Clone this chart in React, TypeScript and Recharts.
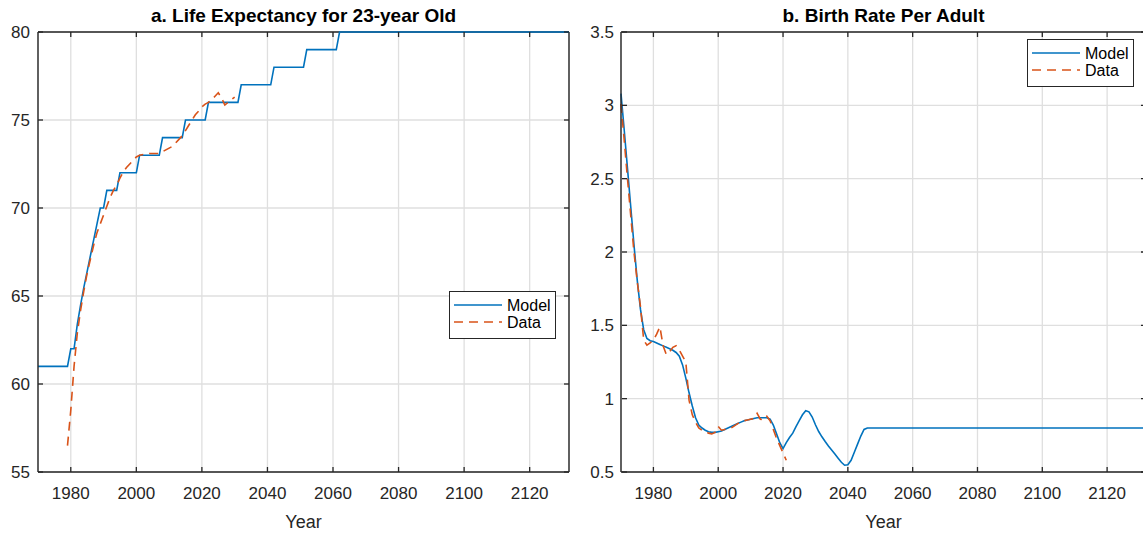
import { LineChart, Line, XAxis, YAxis, CartesianGrid, Legend, ReferenceLine } from "recharts";

const FONT = '"Liberation Sans", Arial, Helvetica, sans-serif';
const AXIS = "#262626";
const GRID = "#dfdfdf";
const BLUE = "#0072BD";
const ORANGE = "#D95319";
const DASH = "9 6";

// x axis (both panels)
const yearTicks = [1980, 2000, 2020, 2040, 2060, 2080, 2100, 2120];

// a. life expectancy
const lifeTicks = [55, 60, 65, 70, 75, 80];
const lifeModelYears = [1970, 1979, 1980, 1981, 1982, 1983, 1984, 1985, 1986, 1987, 1988, 1989, 1990, 1991, 1994, 1995, 2000, 2001, 2007, 2008, 2014, 2015, 2021, 2022, 2031, 2032, 2041, 2042, 2051, 2052, 2061, 2062, 2132];
const lifeModelValues = [61, 61, 62, 62, 63.4, 64.5, 65.5, 66.4, 67.3, 68.2, 69.1, 70, 70, 71, 71, 72, 72, 73, 73, 74, 74, 75, 75, 76, 76, 77, 77, 78, 78, 79, 79, 80, 80];
const lifeDataYears = [1979, 1980, 1981, 1982, 1983, 1984, 1985, 1986, 1987, 1988, 1989, 1990, 1991, 1992, 1993, 1994, 1995, 1996, 1997, 1998, 1999, 2000, 2001, 2004, 2007, 2009, 2011, 2013, 2014, 2015, 2016, 2017, 2018, 2019, 2020, 2021, 2022, 2023, 2024, 2025, 2026, 2027, 2028, 2029, 2030];
const lifeDataValues = [56.5, 58.5, 61.0, 62.9, 64.2, 65.3, 66.3, 67.1, 67.9, 68.6, 69.1, 69.6, 70.1, 70.6, 71.0, 71.3, 71.7, 72.05, 72.3, 72.5, 72.7, 72.9, 73.0, 73.1, 73.1, 73.3, 73.5, 73.9, 74.1, 74.4, 74.7, 75.0, 75.3, 75.5, 75.75, 75.9, 76.0, 76.15, 76.35, 76.55, 76.25, 75.85, 76.0, 76.15, 76.3];

// b. birth rate
const birthTicks = [0.5, 1, 1.5, 2, 2.5, 3, 3.5];
const birthModelYears = [1970, 1971, 1972, 1973, 1974, 1975, 1976, 1977, 1978, 1979, 1980, 1981, 1982, 1983, 1984, 1985, 1986, 1987, 1988, 1989, 1990, 1991, 1992, 1993, 1994, 1995, 1996, 1997, 1998, 1999, 2000, 2001, 2002, 2003, 2004, 2005, 2006, 2007, 2008, 2009, 2010, 2011, 2012, 2013, 2014, 2015, 2016, 2017, 2018, 2019, 2020, 2021, 2022, 2023, 2024, 2025, 2026, 2027, 2028, 2029, 2030, 2031, 2032, 2033, 2034, 2035, 2036, 2037, 2038, 2039, 2040, 2041, 2042, 2043, 2044, 2045, 2046, 2132];
const birthModelValues = [3.08, 2.83, 2.57, 2.31, 2.05, 1.81, 1.61, 1.47, 1.41, 1.395, 1.39, 1.38, 1.37, 1.36, 1.35, 1.34, 1.33, 1.315, 1.29, 1.23, 1.14, 1.04, 0.95, 0.87, 0.82, 0.8, 0.785, 0.775, 0.77, 0.77, 0.775, 0.78, 0.79, 0.8, 0.81, 0.82, 0.83, 0.84, 0.85, 0.855, 0.86, 0.865, 0.87, 0.87, 0.87, 0.87, 0.86, 0.82, 0.76, 0.7, 0.66, 0.7, 0.735, 0.765, 0.81, 0.85, 0.89, 0.918, 0.91, 0.875, 0.822, 0.776, 0.74, 0.708, 0.678, 0.65, 0.622, 0.594, 0.566, 0.546, 0.55, 0.58, 0.635, 0.69, 0.745, 0.79, 0.8, 0.8];
const birthDataYears = [1970, 1971, 1972, 1973, 1974, 1975, 1976, 1977, 1978, 1979, 1980, 1981, 1982, 1983, 1984, 1985, 1986, 1987, 1988, 1989, 1990, 1991, 1992, 1993, 1994, 1995, 1996, 1997, 1998, 1999, 2000, 2001, 2002, 2003, 2004, 2005, 2006, 2007, 2008, 2009, 2010, 2011, 2012, 2013, 2014, 2015, 2016, 2017, 2018, 2019, 2020, 2021];
const birthDataValues = [3.01, 2.76, 2.5, 2.25, 2.0, 1.8, 1.63, 1.4, 1.365, 1.38, 1.4, 1.44, 1.49, 1.36, 1.3, 1.32, 1.35, 1.36, 1.33, 1.29, 1.25, 0.99, 0.89, 0.84, 0.8, 0.785, 0.775, 0.765, 0.76, 0.77, 0.81, 0.785, 0.79, 0.795, 0.8, 0.815, 0.83, 0.84, 0.85, 0.855, 0.86, 0.865, 0.9, 0.86, 0.855, 0.88, 0.85, 0.79, 0.73, 0.68, 0.63, 0.58];

const pairs = (xs: number[], ys: number[]) => xs.map((year, i) => ({ year, value: ys[i] }));

const X_MARGIN = 15;
const Y_MARGIN = 8;
const PLOT_TOP = 32;

function makeXTick() {
  return (props: any) => {
    const { x, y, payload } = props;
    const axisY = y - X_MARGIN;
    return (
      <g>
        <line x1={x} x2={x} y1={axisY} y2={axisY - 5} stroke={AXIS} strokeWidth={1.3} />
        <line x1={x} x2={x} y1={PLOT_TOP} y2={PLOT_TOP + 5} stroke={AXIS} strokeWidth={1.3} />
        <text x={x} y={axisY + 27} textAnchor="middle" fill={AXIS} fontSize={17} fontFamily={FONT}>
          {payload.value}
        </text>
      </g>
    );
  };
}

function makeYTick(plotRight: number) {
  return (props: any) => {
    const { x, y, payload } = props;
    const axisX = x + Y_MARGIN;
    return (
      <g>
        <line x1={axisX} x2={axisX + 5} y1={y} y2={y} stroke={AXIS} strokeWidth={1.3} />
        <line x1={plotRight - 5} x2={plotRight} y1={y} y2={y} stroke={AXIS} strokeWidth={1.3} />
        <text x={x} y={y} dy="0.36em" textAnchor="end" fill={AXIS} fontSize={17} fontFamily={FONT}>
          {payload.value}
        </text>
      </g>
    );
  };
}

function LegendBox() {
  return (
    <div style={{ width: 107, height: 48, boxSizing: "border-box", border: `1px solid ${AXIS}`, background: "#fff" }}>
      <svg width={105} height={46} style={{ display: "block" }}>
        <line x1={4} x2={52} y1={13} y2={13} stroke={BLUE} strokeWidth={1.6} />
        <text x={57} y={19} fontSize={16} fill="#000" fontFamily={FONT}>Model</text>
        <line x1={4} x2={52} y1={30} y2={30} stroke={ORANGE} strokeWidth={1.6} strokeDasharray={DASH} />
        <text x={57} y={36} fontSize={16} fill="#000" fontFamily={FONT}>Data</text>
      </svg>
    </div>
  );
}

const titleStyle = (left: number, width: number): React.CSSProperties => ({
  position: "absolute",
  left,
  width,
  top: 6,
  textAlign: "center",
  fontFamily: FONT,
  fontWeight: "bold",
  fontSize: 19,
  lineHeight: "19px",
  color: "#000",
});

export default function App() {
  return (
    <div style={{ position: "absolute", left: 0, top: 0, width: 1143, height: 535, overflow: "hidden", background: "#fff" }}>
      <div style={titleStyle(38, 531)}>a. Life Expectancy for 23-year Old</div>
      <div style={titleStyle(621, 525)}>b. Birth Rate Per Adult</div>

      <div style={{ position: "absolute", left: 0, top: 0 }}>
        <LineChart width={580} height={535} margin={{ top: PLOT_TOP, right: 11, bottom: 0, left: 0 }}>
          <CartesianGrid stroke={GRID} strokeWidth={1.3} />
          <XAxis
            type="number"
            dataKey="year"
            domain={[1970, 2132]}
            ticks={yearTicks}
            height={63}
            tickSize={0}
            tickLine={false}
            tickMargin={X_MARGIN}
            tick={makeXTick()}
            axisLine={{ stroke: AXIS, strokeWidth: 1.4 }}
            label={{ value: "Year", position: "insideBottom", offset: 7, fontSize: 18, fill: AXIS, fontFamily: FONT }}
          />
          <YAxis
            type="number"
            domain={[55, 80]}
            ticks={lifeTicks}
            width={38}
            tickSize={0}
            tickLine={false}
            tickMargin={Y_MARGIN}
            tick={makeYTick(569)}
            axisLine={{ stroke: AXIS, strokeWidth: 1.4 }}
          />
          <ReferenceLine y={80} stroke={AXIS} strokeWidth={1.4} />
          <ReferenceLine x={2132} stroke={AXIS} strokeWidth={1.4} />
          <Line data={pairs(lifeModelYears, lifeModelValues)} dataKey="value" name="Model" type="linear" stroke={BLUE} strokeWidth={1.6} dot={false} isAnimationActive={false} />
          <Line data={pairs(lifeDataYears, lifeDataValues)} dataKey="value" name="Data" type="linear" stroke={ORANGE} strokeWidth={1.6} strokeDasharray={DASH} dot={false} isAnimationActive={false} />
          <Legend content={() => <LegendBox />} layout="vertical" align="center" verticalAlign="middle" wrapperStyle={{ left: 449, top: 291, width: 107 }} />
        </LineChart>
      </div>

      <div style={{ position: "absolute", left: 570, top: 0 }}>
        <LineChart width={576} height={535} margin={{ top: PLOT_TOP, right: 0, bottom: 0, left: 0 }}>
          <CartesianGrid stroke={GRID} strokeWidth={1.3} />
          <XAxis
            type="number"
            dataKey="year"
            domain={[1970, 2132]}
            ticks={yearTicks}
            height={63}
            tickSize={0}
            tickLine={false}
            tickMargin={X_MARGIN}
            tick={makeXTick()}
            axisLine={{ stroke: AXIS, strokeWidth: 1.4 }}
            label={{ value: "Year", position: "insideBottom", offset: 7, fontSize: 18, fill: AXIS, fontFamily: FONT }}
          />
          <YAxis
            type="number"
            domain={[0.5, 3.5]}
            ticks={birthTicks}
            width={51}
            tickSize={0}
            tickLine={false}
            tickMargin={7}
            tick={makeYTick(576)}
            axisLine={{ stroke: AXIS, strokeWidth: 1.4 }}
          />
          <ReferenceLine y={3.5} stroke={AXIS} strokeWidth={1.4} />
          <ReferenceLine x={2132} stroke={AXIS} strokeWidth={1.4} />
          <Line data={pairs(birthModelYears, birthModelValues)} dataKey="value" name="Model" type="linear" stroke={BLUE} strokeWidth={1.6} dot={false} isAnimationActive={false} />
          <Line data={pairs(birthDataYears, birthDataValues)} dataKey="value" name="Data" type="linear" stroke={ORANGE} strokeWidth={1.6} strokeDasharray={DASH} dot={false} isAnimationActive={false} />
          <Legend content={() => <LegendBox />} layout="vertical" align="center" verticalAlign="middle" wrapperStyle={{ left: 457, top: 39, width: 107 }} />
        </LineChart>
      </div>
    </div>
  );
}
